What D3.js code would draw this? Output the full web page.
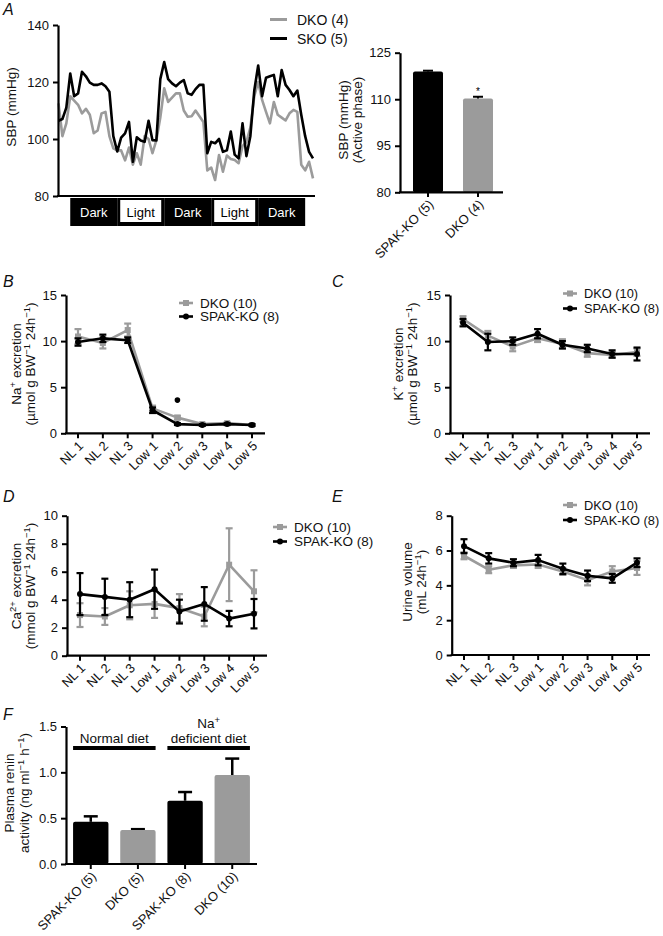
<!DOCTYPE html>
<html><head><meta charset="utf-8">
<script src="https://cdn.jsdelivr.net/npm/d3@7"></script>
<style>body{margin:0;background:#fff}svg{display:block}</style>
</head><body>
<script>
// ---------- DATA ----------
const hours = d3.range(66);
const sbpSKO = [106.4,107,111,123,115,116,123.6,122,119.8,119,119,119.5,118.5,116.6,101,95.6,100.5,102,106,92,100.6,99.5,99,106.4,99.6,99.5,121,127,121,119.5,118.5,119.8,120.7,116,115.5,117.5,119,119,95,99,98.5,100,95.5,96,102.6,94.5,93.2,105.5,94,101,117,125.8,115,121.5,122,122.5,115,124.2,119,117.2,115,117,108.5,101,95.5,93.2];
const sbpDKO = [112.5,101,105.5,115,113.5,112,109,110.6,108.5,102,103,109,109.5,101,96.7,96,96,92.5,97,91,95,91,101,100,95,99.6,107.5,117.8,113,114.5,116,116,110,107.8,108,110,108,106,89,90,85.6,94.4,88.5,94.2,93,92.6,91.5,97.5,99,104,115,120,113.7,109.5,105.5,113,108.5,107.5,106.5,109,110.2,109.5,91,89,92,86.2];
const phaseNames = ["Dark","Light","Dark","Light","Dark"];
const phaseStart = [3,15,27,39,51];
const phaseLength = 12;

const sbpCats = ["SPAK-KO (5)","DKO (4)"];
const sbpActive = [118.9,110.2];
const sbpActiveErr = [0.3,0.6];

const dayCats = ["NL 1","NL 2","NL 3","Low 1","Low 2","Low 3","Low 4","Low 5"];
const naDKO = [10.5,9.8,11.2,2.7,1.7,1.0,1.1,0.9];
const naDKOerr = [0.8,0.6,0.7,0.3,0.2,0.1,0.1,0.1];
const naSPAK = [9.9,10.3,10.1,2.5,1.0,0.9,1.0,0.9];
const naSPAKerr = [0.4,0.4,0.3,0.3,0.1,0.1,0.1,0.1];
const naSig = [{cat:"Low 2", v:3.6}];

const kDKO = [12.4,10.6,9.4,10.3,9.7,8.7,8.5,8.8];
const kDKOerr = [0.3,0.5,0.5,0.4,0.5,0.4,0.3,0.4];
const kSPAK = [12.0,9.9,10.0,10.8,9.6,9.2,8.6,8.6];
const kSPAKerr = [0.4,0.9,0.4,0.5,0.4,0.4,0.4,0.7];

const caDKO = [2.9,2.8,3.6,3.7,3.4,2.8,6.5,4.6];
const caDKOerr = [0.85,0.6,1.0,1.0,1.0,0.7,2.6,1.5];
const caSPAK = [4.4,4.2,4.0,4.75,3.15,3.7,2.65,3.0];
const caSPAKerr = [1.5,1.3,1.25,1.4,0.85,1.2,0.55,1.05];

const uDKO = [5.7,4.9,5.15,5.2,4.8,4.3,4.8,5.0];
const uDKOerr = [0.2,0.2,0.15,0.2,0.2,0.3,0.3,0.4];
const uSPAK = [6.25,5.55,5.3,5.45,4.95,4.55,4.4,5.3];
const uSPAKerr = [0.4,0.3,0.2,0.3,0.3,0.3,0.25,0.25];

const reninCats = ["SPAK-KO (5)","DKO (5)","SPAK-KO (8)","DKO (10)"];
const renin = [0.46,0.37,0.69,0.97];
const reninErr = [0.06,0.01,0.095,0.18];
const reninGeno = ["SPAK","DKO","SPAK","DKO"];
const dietGroups = [{label:["Normal diet"], cats:["SPAK-KO (5)","DKO (5)"]},
                    {label:["Na+","deficient diet"], cats:["SPAK-KO (8)","DKO (10)"]}];

// ---------- SETUP ----------
const FONT = "'Liberation Sans', Arial, Helvetica, sans-serif";
const GREY = "#9b9b9b";
const TS = 13;     // tick label size
const LS = 13.5;   // title size
const svg = d3.select("body").append("svg").attr("width",663).attr("height",936)
  .style("font-family",FONT);
svg.append("rect").attr("width",663).attr("height",936).attr("fill","#fff");

function rich(sel, parts, size){
  let shift = 0;
  parts.forEach(([t,sup])=>{
    const target = sup ? -size*0.38 : 0;
    sel.append("tspan").attr("dy", target-shift)
      .attr("font-size", sup ? size*0.7 : size).text(t);
    shift = target;
  });
}
function yTitle(lines, xs, cy, size){
  lines.forEach((parts,i)=>{
    const t = svg.append("text").attr("transform",`translate(${xs[i]},${cy}) rotate(-90)`)
      .attr("text-anchor","middle").attr("font-size",size).attr("fill","#111");
    rich(t, parts, size);
  });
}
function styleAxis(g, size){
  g.select(".domain").attr("stroke","#000").attr("stroke-width",2.2);
  g.selectAll(".tick line").attr("stroke","#000").attr("stroke-width",2);
  g.selectAll(".tick text").attr("font-size",size).attr("font-family",FONT).attr("fill","#111");
}
function panelLabel(t,x,y){
  svg.append("text").attr("x",x).attr("y",y).attr("font-size",16).attr("font-style","italic")
    .attr("fill","#111").text(t);
}

// ---------- PANEL A: line ----------
{
  const x = d3.scaleLinear().domain([0,65]).range([58.5,313]);
  const y = d3.scaleLinear().domain([80,140]).range([196,25]);
  const line = d3.line().x((d,i)=>x(hours[i])).y(d=>y(d));
  svg.append("path").datum(sbpDKO).attr("d",line).attr("fill","none")
    .attr("stroke",GREY).attr("stroke-width",2.6).attr("stroke-linejoin","round");
  svg.append("path").datum(sbpSKO).attr("d",line).attr("fill","none")
    .attr("stroke","#000").attr("stroke-width",2.6).attr("stroke-linejoin","round");
  const ga = svg.append("g").attr("transform","translate(58,0)")
    .call(d3.axisLeft(y).tickValues([80,100,120,140]).tickSize(5).tickSizeOuter(0).tickPadding(4));
  styleAxis(ga,TS);
  svg.append("line").attr("x1",57).attr("x2",315).attr("y1",196).attr("y2",196)
    .attr("stroke","#000").attr("stroke-width",2.2);
  phaseNames.forEach((p,i)=>{
    const x0 = x(phaseStart[i]), x1 = x(phaseStart[i]+phaseLength);
    svg.append("rect").attr("x",x0).attr("y",198).attr("width",x1-x0).attr("height",28).attr("fill","#000");
    if(p==="Light") svg.append("rect").attr("x",x0+3).attr("y",200).attr("width",x1-x0-6).attr("height",22).attr("fill","#fff");
    svg.append("text").attr("x",(x0+x1)/2).attr("y",216.5).attr("text-anchor","middle")
      .attr("font-size",13).attr("fill",p==="Light"?"#000":"#fff").text(p);
  });
  yTitle([[["SBP (mmHg)"]]],[16],107,LS);
  [["DKO (4)",GREY],["SKO (5)","#000"]].forEach(([t,c],i)=>{
    const yy = 19.5 + i*19;
    svg.append("line").attr("x1",270).attr("x2",287).attr("y1",yy).attr("y2",yy).attr("stroke",c).attr("stroke-width",3);
    svg.append("text").attr("x",297).attr("y",yy+5).attr("font-size",14).attr("fill","#111").text(t);
  });
  panelLabel("A",3,15);
}

// ---------- PANEL A: bar ----------
{
  const x = d3.scaleBand().domain(sbpCats).range([403,503]).paddingInner(0.4).paddingOuter(0.2);
  const y = d3.scaleLinear().domain([80,125]).range([192.3,52.7]);
  sbpCats.forEach((c,i)=>{
    const col = i===0 ? "#000" : GREY;
    svg.append("rect").attr("x",x(c)).attr("width",x.bandwidth()).attr("y",y(sbpActive[i]))
      .attr("height",y(80)-y(sbpActive[i])).attr("fill",col).attr("rx",2);
    const cx = x(c)+x.bandwidth()/2;
    const yt = y(sbpActive[i]+sbpActiveErr[i]);
    svg.append("line").attr("x1",cx).attr("x2",cx).attr("y1",y(sbpActive[i])).attr("y2",yt).attr("stroke","#000").attr("stroke-width",2);
    svg.append("line").attr("x1",cx-5).attr("x2",cx+5).attr("y1",yt).attr("y2",yt).attr("stroke","#000").attr("stroke-width",2);
  });
  svg.append("text").attr("x",x("DKO (4)")+x.bandwidth()/2).attr("y",y(sbpActive[1]+sbpActiveErr[1])-2)
    .attr("text-anchor","middle").attr("font-size",10).text("*");
  const gy = svg.append("g").attr("transform","translate(400,0)")
    .call(d3.axisLeft(y).tickValues([80,95,110,125]).tickSize(5).tickSizeOuter(0).tickPadding(4));
  styleAxis(gy,TS);
  svg.append("line").attr("x1",399).attr("x2",503).attr("y1",192.3).attr("y2",192.3).attr("stroke","#000").attr("stroke-width",2.2);
  sbpCats.forEach(c=>{
    const cx = x(c)+x.bandwidth()/2;
    svg.append("line").attr("x1",cx).attr("x2",cx).attr("y1",192.3).attr("y2",197).attr("stroke","#000").attr("stroke-width",2);
    svg.append("text").attr("transform",`translate(${cx+3},${202}) rotate(-45)`).attr("dy","0.35em")
      .attr("text-anchor","end").attr("font-size",TS).attr("fill","#111").text(c);
  });
  yTitle([[["SBP (mmHg)"]],[["(Active phase)"]]],[348,362],120,LS);
}

// ---------- LINE PANELS B–E ----------
function linePanel(o){
  const x = d3.scalePoint().domain(dayCats).range([o.x0,o.x1]);
  const y = d3.scaleLinear().domain([0,o.max]).range([o.yb,o.yt]);
  const series = [
    {v:o.dko, e:o.dkoErr, c:GREY, m:"square"},
    {v:o.spak, e:o.spakErr, c:"#000", m:"circle"}
  ];
  series.forEach(s=>{
    const g = svg.append("g");
    g.append("path").datum(s.v).attr("fill","none").attr("stroke",s.c).attr("stroke-width",2.6)
      .attr("stroke-linejoin","round")
      .attr("d",d3.line().x((d,i)=>x(dayCats[i])).y(d=>y(d)));
    s.v.forEach((v,i)=>{
      const cx = x(dayCats[i]);
      const y1 = y(v+s.e[i]), y2 = y(v-s.e[i]);
      g.append("line").attr("x1",cx).attr("x2",cx).attr("y1",y1).attr("y2",y2).attr("stroke",s.c).attr("stroke-width",2.2);
      [y1,y2].forEach(yy=>g.append("line").attr("x1",cx-3.5).attr("x2",cx+3.5).attr("y1",yy).attr("y2",yy).attr("stroke",s.c).attr("stroke-width",2.2));
      if(s.m==="square") g.append("rect").attr("x",cx-3).attr("y",y(v)-3).attr("width",6).attr("height",6).attr("fill",s.c);
      else g.append("circle").attr("cx",cx).attr("cy",y(v)).attr("r",3).attr("fill",s.c);
    });
  });
  if(o.sig) o.sig.forEach(s=>svg.append("circle").attr("cx",x(s.cat)).attr("cy",y(s.v)).attr("r",2.8).attr("fill","#000"));
  const gy = svg.append("g").attr("transform",`translate(${o.ax},0)`)
    .call(d3.axisLeft(y).tickValues(o.ticks).tickSize(5).tickSizeOuter(0).tickPadding(4));
  styleAxis(gy,TS);
  svg.append("line").attr("x1",o.ax-1).attr("x2",o.xEnd).attr("y1",o.yb).attr("y2",o.yb).attr("stroke","#000").attr("stroke-width",2.2);
  dayCats.forEach(c=>{
    const cx = x(c);
    svg.append("line").attr("x1",cx).attr("x2",cx).attr("y1",o.yb).attr("y2",o.yb+5).attr("stroke","#000").attr("stroke-width",2);
    svg.append("text").attr("transform",`translate(${cx+3},${o.yb+10}) rotate(-45)`).attr("dy","0.35em")
      .attr("text-anchor","end").attr("font-size",TS).attr("fill","#111").text(c);
  });
  [["DKO (10)",GREY,"square"],["SPAK-KO (8)","#000","circle"]].forEach(([t,c,m],i)=>{
    const yy = o.leg[1] + i*o.legGap;
    const lx = o.leg[0];
    svg.append("line").attr("x1",lx).attr("x2",lx+14).attr("y1",yy).attr("y2",yy).attr("stroke",c).attr("stroke-width",2.6);
    if(m==="square") svg.append("rect").attr("x",lx+4).attr("y",yy-3).attr("width",6).attr("height",6).attr("fill",c);
    else svg.append("circle").attr("cx",lx+7).attr("cy",yy).attr("r",3).attr("fill",c);
    svg.append("text").attr("x",lx+21).attr("y",yy+4.5).attr("font-size",o.legSize||13.5).attr("fill","#111").text(t);
  });
  yTitle(o.title, o.titleX, o.titleY, LS);
  panelLabel(o.label[0],o.label[1],o.label[2]);
}

linePanel({ax:66,yb:433.3,yt:295,max:15,ticks:[0,5,10,15],x0:78,x1:252,xEnd:265,
  dko:naDKO,dkoErr:naDKOerr,spak:naSPAK,spakErr:naSPAKerr,sig:naSig,
  leg:[179,303],legGap:13.5,
  title:[[["Na"],["+",1],[" excretion"]],[["(µmol g BW"],["−1",1],[" 24h"],["−1",1],[")"]]],
  titleX:[21,35],titleY:364,label:["B",3,287]});
linePanel({ax:450,yb:433.3,yt:295,max:15,ticks:[0,5,10,15],x0:463,x1:637,xEnd:650,
  dko:kDKO,dkoErr:kDKOerr,spak:kSPAK,spakErr:kSPAKerr,
  leg:[563,293.5],legGap:15,legSize:12.8,
  title:[[["K"],["+",1],[" excretion"]],[["(µmol g BW"],["−1",1],[" 24h"],["−1",1],[")"]]],
  titleX:[403,417],titleY:364,label:["C",332,287]});
linePanel({ax:67,yb:655.7,yt:515.7,max:10,ticks:[0,2,4,6,8,10],x0:80,x1:254,xEnd:267,
  dko:caDKO,dkoErr:caDKOerr,spak:caSPAK,spakErr:caSPAKerr,
  leg:[273,527],legGap:14.5,
  title:[[["Ca"],["2+",1],[" excretion"]],[["(mmol g BW"],["−1",1],[" 24h"],["−1",1],[")"]]],
  titleX:[21,35],titleY:586,label:["D",3,502]});
linePanel({ax:451.7,yb:655,yt:515.7,max:8,ticks:[0,2,4,6,8],x0:464,x1:637,xEnd:650,
  dko:uDKO,dkoErr:uDKOerr,spak:uSPAK,spakErr:uSPAKerr,
  leg:[563,505],legGap:15,legSize:12.8,
  title:[[["Urine volume"]],[["(mL 24h"],["−1",1],[")"]]],
  titleX:[412,426],titleY:582,label:["E",332,502]});

// ---------- PANEL F ----------
{
  const x = d3.scaleBand().domain(reninCats).range([66,257]).paddingInner(0.25).paddingOuter(0.15);
  const y = d3.scaleLinear().domain([0,1.5]).range([864,726.5]);
  reninCats.forEach((c,i)=>{
    const col = reninGeno[i]==="SPAK" ? "#000" : GREY;
    const cx = x(c)+x.bandwidth()/2;
    const yt = y(renin[i]+reninErr[i]);
    svg.append("line").attr("x1",cx).attr("x2",cx).attr("y1",y(renin[i])).attr("y2",yt).attr("stroke","#000").attr("stroke-width",2.5);
    svg.append("line").attr("x1",cx-7).attr("x2",cx+7).attr("y1",yt).attr("y2",yt).attr("stroke","#000").attr("stroke-width",2.5);
    svg.append("rect").attr("x",x(c)).attr("width",x.bandwidth()).attr("y",y(renin[i]))
      .attr("height",y(0)-y(renin[i])).attr("fill",col).attr("rx",2);
  });
  const gy = svg.append("g").attr("transform","translate(66,0)")
    .call(d3.axisLeft(y).tickValues([0,0.5,1.0,1.5]).tickFormat(d3.format(".1f")).tickSize(5).tickSizeOuter(0).tickPadding(4));
  styleAxis(gy,TS);
  svg.append("line").attr("x1",65).attr("x2",257).attr("y1",864).attr("y2",864).attr("stroke","#000").attr("stroke-width",2.2);
  reninCats.forEach(c=>{
    const cx = x(c)+x.bandwidth()/2;
    svg.append("line").attr("x1",cx).attr("x2",cx).attr("y1",864).attr("y2",869).attr("stroke","#000").attr("stroke-width",2);
    svg.append("text").attr("transform",`translate(${cx+3},${874}) rotate(-45)`).attr("dy","0.35em")
      .attr("text-anchor","end").attr("font-size",TS).attr("fill","#111").text(c);
  });
  dietGroups.forEach(g=>{
    const x0 = x(g.cats[0]), x1 = x(g.cats[1])+x.bandwidth();
    svg.append("line").attr("x1",x0).attr("x2",x1).attr("y1",748).attr("y2",748).attr("stroke","#000").attr("stroke-width",4);
    const cx = (x0+x1)/2;
    if(g.label.length===1){
      svg.append("text").attr("x",cx).attr("y",743).attr("text-anchor","middle").attr("font-size",LS).attr("fill","#111").text(g.label[0]);
    } else {
      const t = svg.append("text").attr("x",cx).attr("y",728).attr("text-anchor","middle").attr("font-size",LS).attr("fill","#111");
      rich(t,[["Na"],["+",1]],LS);
      svg.append("text").attr("x",cx).attr("y",743).attr("text-anchor","middle").attr("font-size",LS).attr("fill","#111").text(g.label[1]);
    }
  });
  yTitle([[["Plasma renin"]],[["activity (ng ml"],["−1",1],[" h"],["−1",1],[")"]]],[14,29],793,LS);
  panelLabel("F",3,720);
}
</script>
</body></html>
